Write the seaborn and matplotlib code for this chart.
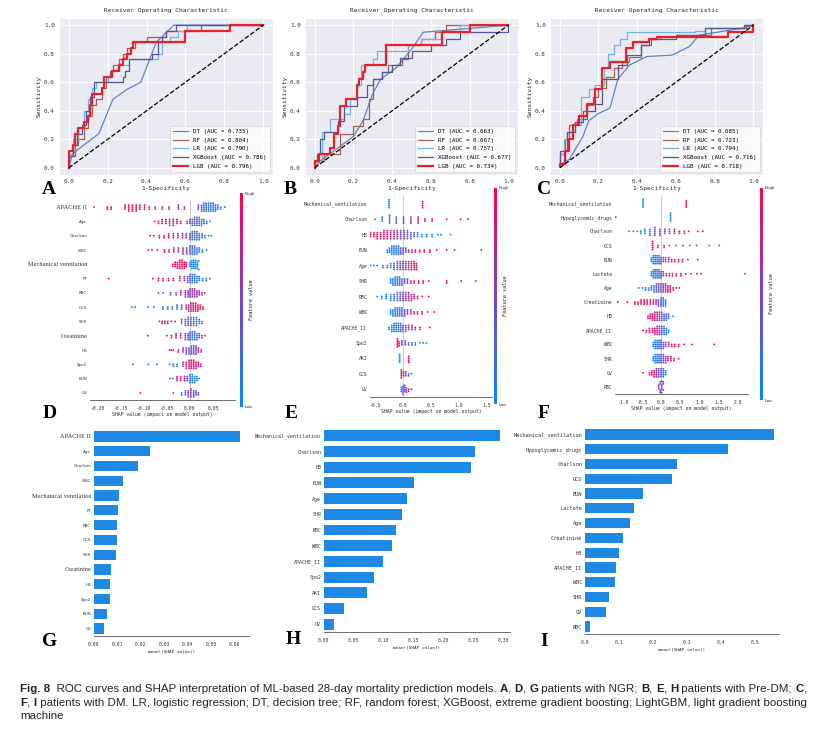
import warnings
import numpy as np
import pandas as pd
import seaborn as sns
import matplotlib.pyplot as plt
from matplotlib.colors import LinearSegmentedColormap, Normalize
from matplotlib.cm import ScalarMappable

warnings.filterwarnings("ignore")

MONO = "DejaVu Sans Mono"
SERIF = "Liberation Serif"
plt.rcParams["font.family"] = [MONO]

# ---------------- ROC data (fpr, tpr corner points) ----------------
MODELS = ["DT", "RF", "LR", "XGBoost", "LGB"]
ROC_COLORS = {"DT": "#5f83c4", "RF": "#a8604c", "LR": "#6fb3e0",
              "XGBoost": "#55559f", "LGB": "#e8202a"}

roc_A = {
    "DT": [(0, 0), (0.02, 0.1), (0.155, 0.24), (0.227, 0.48), (0.30, 0.55), (0.37, 0.60),
           (0.45, 0.88), (0.54, 1.0), (1.0, 1.0)],
    "RF": [(0, 0), (0.03, 0.08), (0.05, 0.16), (0.08, 0.20), (0.10, 0.28), (0.12, 0.36),
           (0.14, 0.44), (0.17, 0.48), (0.19, 0.56), (0.21, 0.64), (0.23, 0.68), (0.26, 0.72),
           (0.28, 0.76), (0.30, 0.80), (0.34, 0.84), (0.40, 0.88), (0.50, 0.92), (0.68, 0.96),
           (1.0, 1.0)],
    "LR": [(0, 0), (0.02, 0.10), (0.05, 0.20), (0.08, 0.28), (0.10, 0.40), (0.12, 0.48),
           (0.14, 0.56), (0.20, 0.60), (0.22, 0.64), (0.26, 0.68), (0.31, 0.72), (0.33, 0.76),
           (0.46, 0.76), (0.48, 0.80), (0.52, 0.88), (0.56, 0.92), (0.61, 0.96), (1.0, 1.0)],
    "XGBoost": [(0, 0), (0.02, 0.08), (0.04, 0.16), (0.07, 0.24), (0.09, 0.30), (0.11, 0.40),
                (0.13, 0.50), (0.28, 0.60), (0.29, 0.64), (0.31, 0.68), (0.43, 0.76),
                (0.46, 0.80), (0.48, 0.88), (0.50, 0.92), (0.55, 0.96), (1.0, 1.0)],
    "LGB": [(0, 0), (0.02, 0.12), (0.03, 0.16), (0.05, 0.24), (0.08, 0.28), (0.10, 0.32),
            (0.11, 0.36), (0.12, 0.44), (0.17, 0.52), (0.18, 0.56), (0.22, 0.64), (0.26, 0.68),
            (0.28, 0.72), (0.30, 0.76), (0.32, 0.80), (0.33, 0.84), (0.60, 0.88), (0.83, 0.96),
            (1.0, 1.0)],
}
auc_A = {"DT": 0.735, "RF": 0.804, "LR": 0.790, "XGBoost": 0.786, "LGB": 0.796}

roc_B = {
    "DT": [(0, 0), (0.03, 0.05), (0.10, 0.12), (0.20, 0.22), (0.25, 0.33), (0.30, 0.52),
           (0.34, 0.62), (0.42, 0.70), (0.50, 0.83), (0.56, 0.95), (1.0, 1.0)],
    "RF": [(0, 0), (0.05, 0.05), (0.13, 0.10), (0.20, 0.24), (0.25, 0.29), (0.28, 0.34),
           (0.30, 0.48), (0.35, 0.62), (0.38, 0.67), (0.45, 0.72), (0.48, 0.76), (0.55, 0.86),
           (0.62, 0.90), (0.68, 0.95), (1.0, 1.0)],
    "LR": [(0, 0), (0.04, 0.05), (0.08, 0.25), (0.15, 0.34), (0.18, 0.38), (0.22, 0.48),
           (0.24, 0.58), (0.30, 0.72), (0.32, 0.76), (0.48, 0.82), (0.55, 0.86), (0.65, 0.90),
           (0.75, 0.95), (1.0, 1.0)],
    "XGBoost": [(0, 0), (0.01, 0.05), (0.03, 0.10), (0.05, 0.20), (0.12, 0.25), (0.15, 0.33),
                (0.22, 0.43), (0.27, 0.50), (0.30, 0.58), (0.35, 0.62), (0.40, 0.67),
                (0.44, 0.72), (0.50, 0.77), (0.60, 0.82), (0.68, 0.86), (0.75, 0.90),
                (1.0, 0.95), (1.0, 1.0)],
    "LGB": [(0, 0), (0.02, 0.05), (0.08, 0.10), (0.10, 0.14), (0.12, 0.24), (0.13, 0.29),
            (0.16, 0.43), (0.22, 0.48), (0.23, 0.58), (0.25, 0.62), (0.26, 0.67), (0.37, 0.72),
            (0.66, 0.86), (0.80, 0.95), (1.0, 1.0)],
}
auc_B = {"DT": 0.663, "RF": 0.667, "LR": 0.757, "XGBoost": 0.677, "LGB": 0.734}

roc_C = {
    "DT": [(0, 0.02), (0.05, 0.06), (0.12, 0.22), (0.15, 0.33), (0.20, 0.38), (0.26, 0.42),
           (0.30, 0.62), (0.36, 0.72), (0.45, 0.78), (0.58, 0.79), (0.67, 0.85), (0.72, 0.93),
           (0.95, 0.98), (1.0, 1.0)],
    "RF": [(0, 0.02), (0.03, 0.10), (0.05, 0.20), (0.09, 0.30), (0.14, 0.34), (0.17, 0.44),
           (0.20, 0.50), (0.24, 0.56), (0.28, 0.64), (0.32, 0.70), (0.36, 0.74), (0.42, 0.78),
           (0.47, 0.86), (0.52, 0.90), (0.60, 0.92), (0.78, 0.93), (0.96, 0.98), (1.0, 1.0)],
    "LR": [(0, 0.02), (0.02, 0.10), (0.04, 0.20), (0.08, 0.25), (0.11, 0.30), (0.15, 0.50),
           (0.18, 0.55), (0.23, 0.58), (0.25, 0.70), (0.28, 0.80), (0.31, 0.86), (0.35, 0.90),
           (0.70, 0.95), (0.75, 0.96), (0.95, 0.98), (1.0, 1.0)],
    "XGBoost": [(0, 0.02), (0.04, 0.12), (0.08, 0.25), (0.12, 0.32), (0.18, 0.40),
                (0.22, 0.45), (0.30, 0.62), (0.35, 0.72), (0.42, 0.79), (0.46, 0.86),
                (0.60, 0.90), (0.75, 0.93), (0.95, 0.98), (1.0, 1.0)],
    "LGB": [(0, 0.01), (0.03, 0.03), (0.05, 0.12), (0.07, 0.20), (0.10, 0.30), (0.14, 0.36),
            (0.18, 0.45), (0.22, 0.55), (0.26, 0.70), (0.34, 0.74), (0.38, 0.84), (0.46, 0.88),
            (0.50, 0.90), (0.60, 0.92), (0.87, 0.92), (1.0, 0.95), (1.0, 1.0)],
}
auc_C = {"DT": 0.685, "RF": 0.723, "LR": 0.794, "XGBoost": 0.716, "LGB": 0.718}

# ---------------- SHAP beeswarm data: (shap value, count, feature value 0-1) ----------------
D_features = ["APACHE II", "Age", "Charlson", "WBC", "Mechanical ventilation", "PT", "RBC",
              "GCS", "SHR", "Creatinine", "HB", "Spo2", "BUN", "GV"]
D_swarm = {
    "APACHE II": [(-0.207, 1, 1.0), (-0.178, 2, 1.0), (-0.170, 2, 0.95), (-0.140, 3, 1.0),
                  (-0.132, 4, 1.0), (-0.124, 4, 0.95), (-0.116, 4, 0.95), (-0.108, 3, 0.9),
                  (-0.098, 3, 0.9), (-0.088, 2, 0.9), (-0.075, 2, 0.85), (-0.060, 2, 0.8),
                  (-0.045, 2, 0.75), (-0.025, 3, 0.65), (-0.012, 2, 0.6), (0.018, 3, 0.45),
                  (0.025, 4, 0.35), (0.030, 5, 0.25), (0.035, 5, 0.2), (0.040, 5, 0.1),
                  (0.045, 5, 0.15), (0.050, 5, 0.1), (0.055, 4, 0.2), (0.060, 3, 0.1),
                  (0.066, 2, 0.1), (0.075, 1, 0.05)],
    "Age": [(-0.076, 1, 1), (-0.068, 2, 1), (-0.060, 3, 0.95), (-0.052, 3, 0.95), (-0.044, 4, 0.9),
            (-0.036, 4, 0.9), (-0.028, 3, 0.85), (-0.020, 2, 0.8), (-0.006, 2, 0.5),
            (0.000, 3, 0.4), (0.005, 4, 0.35), (0.010, 5, 0.3), (0.015, 5, 0.25), (0.020, 5, 0.2),
            (0.025, 4, 0.15), (0.030, 3, 0.1), (0.036, 2, 0.1), (0.043, 1, 0.05)],
    "Charlson": [(-0.086, 1, 1), (-0.078, 1, 1), (-0.066, 2, 0.95), (-0.056, 2, 0.95),
                 (-0.046, 3, 0.9), (-0.036, 3, 0.85), (-0.026, 3, 0.8), (-0.016, 3, 0.75),
                 (-0.008, 3, 0.65), (0.000, 4, 0.45), (0.005, 5, 0.3), (0.010, 5, 0.25),
                 (0.015, 5, 0.2), (0.020, 4, 0.15), (0.026, 3, 0.1), (0.032, 2, 0.1),
                 (0.040, 1, 0.05), (0.046, 1, 0.05)],
    "WBC": [(-0.090, 1, 1), (-0.082, 1, 1), (-0.070, 1, 0.95), (-0.055, 2, 0.95), (-0.045, 2, 0.9),
            (-0.035, 3, 0.8), (-0.025, 3, 0.75), (-0.015, 4, 0.7), (-0.007, 4, 0.5),
            (0.000, 5, 0.35), (0.005, 5, 0.25), (0.010, 5, 0.2), (0.015, 4, 0.15), (0.020, 3, 0.1),
            (0.027, 2, 0.1), (0.036, 1, 0.05)],
    "Mechanical ventilation": [(-0.037, 2, 1), (-0.032, 3, 1), (-0.027, 4, 1), (-0.022, 5, 1),
                               (-0.017, 5, 1), (-0.012, 4, 1), (-0.008, 3, 1), (0.000, 3, 0.0),
                               (0.004, 5, 0.0), (0.008, 5, 0.0), (0.012, 5, 0.0), (0.016, 4, 0.0),
                               (0.019, 2, 0.0)],
    "PT": [(-0.175, 1, 1), (-0.080, 1, 1), (-0.068, 2, 0.95), (-0.058, 2, 0.95), (-0.046, 2, 0.9),
           (-0.036, 2, 0.85), (-0.022, 3, 0.7), (-0.012, 3, 0.6), (-0.005, 4, 0.5),
           (0.000, 5, 0.3), (0.005, 5, 0.2), (0.010, 5, 0.15), (0.015, 4, 0.1), (0.020, 3, 0.1),
           (0.027, 2, 0.05), (0.035, 2, 0.05), (0.043, 1, 0.05)],
    "RBC": [(-0.068, 1, 0.1), (-0.058, 1, 0.1), (-0.042, 2, 0.3), (-0.030, 2, 0.5),
            (-0.020, 3, 0.6), (-0.010, 4, 0.6), (-0.004, 4, 0.55), (0.000, 5, 0.55),
            (0.005, 5, 0.6), (0.010, 5, 0.6), (0.015, 4, 0.65), (0.020, 3, 0.7), (0.026, 2, 0.7),
            (0.032, 1, 0.6)],
    "GCS": [(-0.125, 1, 0.0), (-0.118, 1, 0.0), (-0.090, 1, 0.05), (-0.078, 1, 0.05),
            (-0.058, 2, 0.1), (-0.048, 2, 0.1), (-0.038, 2, 0.15), (-0.028, 3, 0.2),
            (-0.018, 3, 0.3), (-0.008, 3, 0.5), (-0.003, 4, 0.75), (0.002, 5, 0.85),
            (0.007, 5, 0.9), (0.012, 5, 0.95), (0.017, 4, 0.95), (0.022, 3, 1), (0.028, 2, 1)],
    "SHR": [(-0.066, 1, 1), (-0.060, 2, 1), (-0.054, 2, 1), (-0.048, 2, 1), (-0.040, 1, 1),
            (-0.032, 1, 0.95), (-0.018, 3, 0.6), (-0.010, 4, 0.5), (-0.004, 5, 0.4),
            (0.002, 5, 0.3), (0.008, 5, 0.2), (0.014, 5, 0.15), (0.020, 3, 0.1), (0.026, 2, 0.1)],
    "Creatinine": [(-0.091, 1, 1), (-0.050, 1, 0.95), (-0.040, 2, 0.9), (-0.030, 3, 0.85),
                   (-0.020, 3, 0.8), (-0.010, 4, 0.6), (-0.004, 4, 0.4), (0.000, 5, 0.2),
                   (0.005, 5, 0.15), (0.010, 5, 0.1), (0.015, 4, 0.2), (0.020, 3, 0.4),
                   (0.026, 2, 0.5), (0.032, 1, 0.5)],
    "HB": [(-0.044, 1, 1), (-0.040, 1, 1), (-0.036, 1, 0.95), (-0.025, 2, 0.8), (-0.015, 3, 0.7),
           (-0.008, 4, 0.6), (-0.002, 4, 0.4), (0.003, 5, 0.3), (0.008, 5, 0.5), (0.013, 5, 0.6),
           (0.018, 3, 0.7), (0.024, 2, 0.75)],
    "Spo2": [(-0.123, 1, 0.0), (-0.090, 1, 0.0), (-0.071, 1, 0.05), (-0.044, 1, 0.1),
             (-0.036, 2, 0.1), (-0.028, 2, 0.15), (-0.015, 3, 0.5), (-0.008, 4, 0.75),
             (-0.002, 5, 0.85), (0.003, 5, 0.9), (0.008, 5, 0.9), (0.013, 4, 0.85),
             (0.018, 3, 0.8), (0.023, 2, 0.75)],
    "BUN": [(-0.043, 1, 0.1), (-0.037, 1, 0.15), (-0.028, 3, 0.9), (-0.020, 3, 0.85),
            (-0.012, 3, 0.8), (-0.006, 3, 0.6), (0.000, 5, 0.15), (0.005, 5, 0.1),
            (0.010, 4, 0.1), (0.015, 3, 0.1), (0.020, 1, 0.1)],
    "GV": [(-0.107, 1, 1), (-0.036, 1, 1), (-0.018, 2, 0.2), (-0.010, 3, 0.3), (-0.004, 4, 0.5),
           (0.002, 5, 0.6), (0.008, 4, 0.5), (0.013, 3, 0.4), (0.018, 2, 0.3)],
}

E_features = ["Mechanical_ventilation", "Charlson", "HB", "BUN", "Age", "SHR", "RBC", "WBC",
              "APACHE_II", "Spo2", "AKI", "GCS", "GV"]
E_swarm = {
    "Mechanical_ventilation": [(-0.25, 5, 0.0), (0.35, 4, 1.0)],
    "Charlson": [(-0.50, 1, 0.0), (-0.37, 3, 0.05), (-0.24, 5, 0.1), (-0.12, 4, 0.3),
                 (0.01, 4, 0.45), (0.14, 4, 0.65), (0.27, 4, 0.85), (0.39, 2, 0.95),
                 (0.52, 2, 1.0), (0.78, 1, 1.0), (1.03, 1, 1.0), (1.16, 1, 1.0)],
    "HB": [(-0.70, 1, 1), (-0.64, 2, 1), (-0.58, 3, 1), (-0.52, 3, 1), (-0.46, 4, 0.95),
           (-0.40, 4, 0.95), (-0.34, 5, 0.9), (-0.28, 5, 0.85), (-0.22, 5, 0.8), (-0.16, 5, 0.75),
           (-0.10, 5, 0.6), (-0.04, 5, 0.5), (0.02, 5, 0.45), (0.08, 5, 0.4), (0.14, 4, 0.35),
           (0.20, 3, 0.3), (0.26, 3, 0.2), (0.34, 2, 0.1), (0.42, 2, 0.05), (0.52, 2, 0.05),
           (0.62, 1, 0.0), (0.68, 1, 0.0), (0.85, 1, 0.0)],
    "BUN": [(-0.28, 2, 0.05), (-0.24, 3, 0.05), (-0.20, 5, 0.1), (-0.16, 5, 0.1), (-0.12, 5, 0.15),
            (-0.08, 5, 0.2), (-0.04, 4, 0.3), (0.00, 4, 0.45), (0.05, 3, 0.55), (0.10, 2, 0.65),
            (0.16, 2, 0.75), (0.22, 2, 0.85), (0.30, 2, 0.9), (0.38, 2, 0.95), (0.48, 2, 1),
            (0.60, 1, 1), (0.78, 1, 1), (0.92, 1, 1), (1.40, 1, 1)],
    "Age": [(-0.58, 1, 0.0), (-0.52, 1, 0.0), (-0.46, 1, 0.0), (-0.36, 2, 0.05), (-0.28, 2, 0.1),
            (-0.22, 3, 0.15), (-0.16, 4, 0.2), (-0.10, 5, 0.3), (-0.05, 5, 0.4), (0.00, 5, 0.5),
            (0.05, 5, 0.6), (0.10, 5, 0.7), (0.15, 5, 0.8), (0.20, 5, 0.9), (0.24, 4, 0.95)],
    "SHR": [(-0.22, 3, 0.05), (-0.18, 4, 0.05), (-0.14, 5, 0.1), (-0.10, 5, 0.15), (-0.06, 5, 0.2),
            (-0.02, 4, 0.3), (0.03, 3, 0.45), (0.08, 3, 0.55), (0.14, 2, 0.7), (0.20, 2, 0.8),
            (0.28, 2, 0.9), (0.36, 2, 1), (0.46, 1, 1), (0.78, 2, 1), (1.04, 1, 1), (1.30, 1, 1)],
    "RBC": [(-0.46, 1, 0.0), (-0.38, 2, 0.0), (-0.30, 3, 0.05), (-0.22, 4, 0.1), (-0.16, 4, 0.2),
            (-0.10, 5, 0.3), (-0.05, 5, 0.4), (0.00, 5, 0.5), (0.05, 5, 0.6), (0.10, 5, 0.7),
            (0.15, 4, 0.8), (0.20, 3, 0.85), (0.26, 2, 0.9), (0.34, 1, 0.95), (0.46, 1, 1)],
    "WBC": [(-0.22, 3, 0.05), (-0.18, 4, 0.05), (-0.14, 5, 0.1), (-0.10, 5, 0.15), (-0.06, 5, 0.2),
            (-0.02, 5, 0.3), (0.03, 4, 0.45), (0.08, 3, 0.6), (0.14, 3, 0.7), (0.20, 2, 0.8),
            (0.26, 2, 0.9), (0.34, 2, 0.95), (0.44, 1, 1), (0.56, 1, 1)],
    "APACHE_II": [(-0.25, 2, 0.05), (-0.20, 4, 0.05), (-0.16, 5, 0.1), (-0.12, 5, 0.1),
                  (-0.08, 5, 0.15), (-0.04, 5, 0.25), (0.00, 4, 0.4), (0.05, 4, 0.55),
                  (0.10, 3, 0.65), (0.16, 3, 0.8), (0.22, 2, 0.9), (0.30, 2, 1), (0.48, 1, 1)],
    "Spo2": [(-0.10, 5, 1.0), (-0.07, 3, 0.9), (-0.02, 3, 0.6), (0.04, 3, 0.5), (0.10, 2, 0.4),
             (0.16, 2, 0.3), (0.22, 2, 0.2), (0.30, 1, 0.1), (0.36, 1, 0.05), (0.42, 1, 0.0)],
    "AKI": [(-0.06, 5, 0.0), (0.10, 4, 1.0)],
    "GCS": [(-0.03, 5, 1.0), (0.01, 3, 0.7), (0.05, 3, 0.4), (0.10, 2, 0.2), (0.15, 1, 0.1)],
    "GV": [(-0.03, 3, 0.2), (0.00, 5, 0.3), (0.03, 4, 0.4), (0.06, 3, 0.6), (0.10, 2, 0.9),
           (0.15, 1, 1)],
}

F_features = ["Mechanical_ventilation", "Hypoglycemic_drugs", "Charlson", "GCS", "BUN", "Lactate",
              "Age", "Creatinine", "HB", "APACHE_II", "WBC", "SHR", "GV", "RBC"]
F_swarm = {
    "Mechanical_ventilation": [(-0.47, 5, 0.0), (0.66, 4, 1.0)],
    "Hypoglycemic_drugs": [(-1.18, 1, 1.0), (0.25, 5, 0.0)],
    "Charlson": [(-0.83, 1, 0), (-0.72, 1, 0), (-0.62, 1, 0), (-0.53, 2, 0), (-0.42, 3, 0.05),
                 (-0.29, 4, 0.1), (-0.16, 5, 0.3), (-0.03, 4, 0.45), (0.10, 3, 0.55),
                 (0.22, 3, 0.65), (0.35, 3, 0.75), (0.48, 2, 0.85), (0.61, 2, 0.9), (0.72, 1, 1),
                 (0.96, 1, 1), (1.09, 1, 1)],
    "GCS": [(-0.22, 5, 1.0), (-0.08, 2, 0.8), (0.08, 2, 0.6), (0.22, 1, 0.4), (0.39, 1, 0.3),
            (0.57, 1, 0.2), (0.75, 1, 0.1), (0.93, 1, 0.05), (1.26, 1, 0.0), (1.52, 1, 0.0)],
    "BUN": [(-0.25, 3, 0.05), (-0.20, 5, 0.05), (-0.15, 5, 0.1), (-0.10, 5, 0.1), (-0.05, 5, 0.2),
            (0.00, 4, 0.35), (0.06, 3, 0.5), (0.12, 3, 0.6), (0.20, 3, 0.7), (0.28, 2, 0.8),
            (0.36, 2, 0.85), (0.46, 2, 0.9), (0.56, 2, 0.95), (0.70, 1, 1), (0.96, 1, 1)],
    "Lactate": [(-0.25, 3, 0.05), (-0.20, 5, 0.05), (-0.15, 5, 0.1), (-0.10, 5, 0.1),
                (-0.05, 5, 0.2), (0.00, 4, 0.35), (0.06, 3, 0.5), (0.14, 2, 0.6), (0.22, 2, 0.7),
                (0.30, 2, 0.8), (0.40, 2, 0.9), (0.52, 2, 0.95), (0.65, 1, 1), (0.78, 1, 1),
                (0.94, 1, 1), (1.05, 1, 1), (2.19, 1, 1)],
    "Age": [(-0.58, 1, 0), (-0.48, 1, 0), (-0.40, 2, 0), (-0.32, 2, 0.05), (-0.25, 3, 0.1),
            (-0.18, 4, 0.2), (-0.12, 5, 0.3), (-0.06, 5, 0.4), (0.00, 5, 0.5), (0.06, 5, 0.6),
            (0.12, 5, 0.7), (0.18, 4, 0.8), (0.24, 4, 0.9), (0.32, 2, 0.95), (0.40, 1, 1),
            (0.48, 1, 1)],
    "Creatinine": [(-1.13, 1, 1), (-0.88, 1, 1), (-0.68, 2, 1), (-0.60, 2, 1), (-0.52, 3, 1),
                   (-0.44, 3, 0.95), (-0.36, 3, 0.95), (-0.28, 3, 0.9), (-0.20, 3, 0.8),
                   (-0.13, 3, 0.7), (-0.07, 4, 0.5), (0.00, 5, 0.3), (0.06, 5, 0.15),
                   (0.12, 4, 0.05)],
    "HB": [(-0.34, 2, 1), (-0.28, 3, 0.95), (-0.22, 4, 0.9), (-0.16, 5, 0.85), (-0.10, 5, 0.75),
           (-0.04, 5, 0.6), (0.02, 5, 0.4), (0.08, 4, 0.3), (0.14, 4, 0.2), (0.20, 3, 0.15),
           (0.31, 1, 0.0)],
    "APACHE_II": [(-0.47, 1, 1), (-0.38, 2, 1), (-0.30, 3, 0.95), (-0.22, 3, 0.9), (-0.16, 4, 0.85),
                  (-0.10, 5, 0.75), (-0.04, 5, 0.6), (0.02, 5, 0.35), (0.08, 5, 0.2),
                  (0.14, 4, 0.1), (0.20, 2, 0.05)],
    "WBC": [(-0.20, 3, 0.05), (-0.15, 5, 0.05), (-0.10, 5, 0.1), (-0.05, 5, 0.15), (0.00, 5, 0.25),
            (0.06, 4, 0.4), (0.12, 3, 0.55), (0.20, 3, 0.7), (0.28, 2, 0.8), (0.36, 2, 0.9),
            (0.46, 2, 1), (0.60, 1, 1), (0.81, 1, 1), (1.39, 1, 1)],
    "SHR": [(-0.20, 3, 0.05), (-0.15, 5, 0.05), (-0.10, 5, 0.1), (-0.05, 5, 0.2), (0.00, 5, 0.3),
            (0.06, 5, 0.45), (0.12, 4, 0.6), (0.18, 3, 0.75), (0.26, 3, 0.85), (0.34, 2, 0.95),
            (0.46, 1, 1)],
    "GV": [(-0.47, 1, 1), (-0.30, 2, 0.95), (-0.24, 3, 0.9), (-0.18, 4, 0.8), (-0.12, 5, 0.7),
           (-0.06, 5, 0.5), (0.00, 5, 0.3), (0.06, 5, 0.15), (0.12, 3, 0.05)],
    "RBC": [(-0.06, 3, 0.6), (-0.02, 5, 0.4), (0.02, 5, 0.5), (0.06, 3, 0.7)],
}

# ---------------- SHAP mean |value| bars ----------------
G_values = [0.0622, 0.0238, 0.0187, 0.0124, 0.0106, 0.0103, 0.0099, 0.0098, 0.0093,
            0.0071, 0.0069, 0.0066, 0.0055, 0.0044]
H_values = [0.293, 0.251, 0.245, 0.150, 0.139, 0.130, 0.120, 0.114, 0.099, 0.084,
            0.071, 0.033, 0.016]
I_values = [0.556, 0.420, 0.270, 0.257, 0.171, 0.143, 0.133, 0.111, 0.099, 0.091,
            0.089, 0.070, 0.062, 0.015]

SERIF_LABELS = {"APACHE II", "Mechanical ventilation", "Creatinine"}
SHAP_CMAP = LinearSegmentedColormap.from_list("shap", ["#008bfb", "#8040c8", "#ff0052"])
BAR_BLUE = "#1E88E5"

W, H = 818, 734
fig = plt.figure(figsize=(W / 100, H / 100), dpi=100)


def px_axes(left, top, right, bottom, style="white"):
    with sns.axes_style(style):
        return fig.add_axes([left / W, 1 - bottom / H, (right - left) / W, (bottom - top) / H])


def draw_roc(box, curves, aucs):
    ax = px_axes(*box, style="darkgrid")
    for name in MODELS:
        pts = np.array(curves[name])
        sns.lineplot(x=pts[:, 0], y=pts[:, 1], ax=ax, sort=False, estimator=None,
                     color=ROC_COLORS[name], linewidth=1.6 if name == "LGB" else 0.9,
                     drawstyle="default" if name == "DT" else "steps-pre",
                     label=f"{name} (AUC = {aucs[name]:.3f})")
    ax.plot([0, 1], [0, 1], color="black", linestyle="--", linewidth=0.9)
    ax.set_xlim(-0.05, 1.05)
    ax.set_ylim(-0.05, 1.05)
    ticks = np.arange(0, 1.01, 0.2)
    ax.set_xticks(ticks)
    ax.set_yticks(ticks)
    ax.set_xticklabels([f"{t:.1f}" for t in ticks])
    ax.set_yticklabels([f"{t:.1f}" for t in ticks])
    ax.tick_params(labelsize=4.3, pad=3, length=0, labelfontfamily=MONO, colors="#333333")
    ax.set_title("Receiver Operating Characteristic", fontsize=4.5, family=MONO, pad=4)
    ax.set_xlabel("1-Specificity", fontsize=4.5, family=MONO, labelpad=1)
    ax.set_ylabel("Sensitivity", fontsize=4.5, family=MONO, labelpad=2)
    ax.grid(color="white", linewidth=0.8)
    leg = ax.legend(loc="lower right", prop={"family": MONO, "size": 4.2}, handlelength=2.6,
                    labelspacing=0.6, borderpad=0.6, handletextpad=0.8, framealpha=0.8)
    leg.get_frame().set_linewidth(0.5)
    return ax


def style_shap_axis(ax, small_size, small_family):
    for side in ["left", "top", "right"]:
        ax.spines[side].set_visible(False)
    ax.spines["bottom"].set_linewidth(0.5)
    ax.spines["bottom"].set_color("#333333")
    ax.tick_params(axis="y", length=0, pad=2)
    ax.tick_params(axis="x", length=2, width=0.4, pad=2, labelsize=3.4,
                   labelfontfamily=MONO, colors="#333333")
    for lbl in ax.get_yticklabels():
        if lbl.get_text() in SERIF_LABELS and small_family != MONO:
            lbl.set_fontfamily(SERIF)
            lbl.set_fontsize(4.6)
        else:
            lbl.set_fontfamily(small_family)
            lbl.set_fontsize(small_size)
        lbl.set_color("#333333")


def draw_swarm(box, features, swarm, xlim, ticks, fmt, cbar_box, ylabel_size, ylabel_family):
    ax = px_axes(*box)
    rows = []
    for feat in features:
        for shap_v, n, fv in swarm[feat]:
            rows += [(feat, shap_v, fv)] * n
    df = pd.DataFrame(rows, columns=["feature", "shap", "fv"])
    ax.axvline(0, color="#bbbbbb", linewidth=0.5, zorder=0)
    sns.swarmplot(data=df, x="shap", y="feature", hue="fv", order=features, orient="h",
                  palette=SHAP_CMAP, hue_norm=(0, 1), size=1.35, linewidth=0,
                  legend=False, ax=ax)
    ax.set_xlim(*xlim)
    ax.set_ylim(len(features) - 0.5, -0.5)
    ax.set_yticks(range(len(features)))
    ax.set_yticklabels(features)
    ax.set_xticks(ticks)
    ax.set_xticklabels([fmt.format(t) for t in ticks])
    ax.set_ylabel("")
    ax.set_xlabel("SHAP value (impact on model output)", fontsize=3.4, family=MONO, labelpad=1)
    style_shap_axis(ax, ylabel_size, ylabel_family)

    cax = px_axes(*cbar_box)
    cb = fig.colorbar(ScalarMappable(norm=Normalize(0, 1), cmap=SHAP_CMAP), cax=cax, ticks=[0, 1])
    cb.set_ticklabels(["Low", "High"])
    cb.outline.set_visible(False)
    cb.ax.tick_params(labelsize=3.2, length=0, pad=1, labelfontfamily=MONO)
    cb.set_label("Feature value", size=3.8, family=MONO, labelpad=-4)
    return ax


def draw_bars(box, features, values, xmax, ticks, fmt, ylabel_size, ylabel_family):
    ax = px_axes(*box)
    sns.barplot(x=values, y=features, orient="h", color=BAR_BLUE, saturation=1,
                width=0.7, ax=ax)
    ax.set_xlim(0, xmax)
    ax.set_ylim(len(features) - 0.5, -0.5)
    ax.set_yticks(range(len(features)))
    ax.set_yticklabels(features)
    ax.set_xticks(ticks)
    ax.set_xticklabels([fmt.format(t) for t in ticks])
    ax.set_ylabel("")
    ax.set_xlabel("mean(|SHAP value|)", fontsize=3.2, family=MONO, labelpad=2)
    style_shap_axis(ax, ylabel_size, ylabel_family)
    return ax


# ROC row
draw_roc((59, 18, 273, 175), roc_A, auc_A)
draw_roc((305, 18, 518, 175), roc_B, auc_B)
draw_roc((550, 18, 763, 175), roc_C, auc_C)

# beeswarm row
draw_swarm((90, 200, 235, 400), D_features, D_swarm, (-0.2155, 0.097),
           [-0.20, -0.15, -0.10, -0.05, 0.0, 0.05], "{:.2f}", (240, 193, 243, 407), 2.9, "DejaVu Sans")
draw_swarm((370, 196, 492, 397), E_features, E_swarm, (-0.589, 1.589),
           [-0.5, 0.0, 0.5, 1.0, 1.5], "{:.1f}", (494, 188, 497, 404), 3.5, MONO)
draw_swarm((615, 196, 748, 394), F_features, F_swarm, (-1.20, 2.27),
           [-1.0, -0.5, 0.0, 0.5, 1.0, 1.5, 2.0], "{:.1f}", (760, 188, 763, 400), 3.5, MONO)

# bar row
draw_bars((94, 429, 249, 636), D_features, G_values, 0.066,
          [0.00, 0.01, 0.02, 0.03, 0.04, 0.05, 0.06], "{:.2f}", 2.9, "DejaVu Sans")
draw_bars((324, 428, 510, 632), E_features, H_values, 0.31,
          [0.00, 0.05, 0.10, 0.15, 0.20, 0.25, 0.30], "{:.2f}", 3.6, MONO)
draw_bars((585, 427, 779, 634), F_features, I_values, 0.57,
          [0.0, 0.1, 0.2, 0.3, 0.4, 0.5], "{:.1f}", 3.8, MONO)

# panel letters
letters = [("A", 42, 190), ("B", 284, 190), ("C", 537, 190),
           ("D", 43, 414), ("E", 285, 414), ("F", 538, 414),
           ("G", 42, 642), ("H", 286, 640), ("I", 540, 641)]
for letter, lx, ly in letters:
    fig.text(lx / W, 1 - ly / H, letter, fontsize=14, fontweight="bold", family=SERIF,
             ha="left", va="center")

# caption with bold runs
caption_lines = [
    [("Fig. 8", True), ("  ROC curves and SHAP interpretation of ML-based 28-day mortality prediction models. ", False),
     ("A", True), (", ", False), ("D", True), (", ", False), ("G", True),
     (" patients with NGR; ", False), ("B", True), (", ", False), ("E", True), (", ", False),
     ("H", True), (" patients with Pre-DM; ", False), ("C", True), (",", False)],
    [("F", True), (", ", False), ("I", True),
     (" patients with DM. LR, logistic regression; DT, decision tree; RF, random forest; XGBoost, "
      "extreme gradient boosting; LightGBM, light gradient boosting", False)],
    [("machine", False)],
]
caption_y = [689, 703, 716]
CAP_FONT = "Liberation Sans"
renderer = fig.canvas.get_renderer()


def place_line(runs, cy, size, draw=True):
    x = 20 / W
    placed = []
    for txt, bold in runs:
        t = fig.text(x, 1 - cy / H, txt, fontsize=size, family=CAP_FONT,
                     fontweight="bold" if bold else "normal", ha="left", va="center",
                     color="#222222")
        x += t.get_window_extent(renderer).width / fig.bbox.width
        placed.append(t)
    if not draw:
        for t in placed:
            t.remove()
    return x * W - 20


# fit the caption so that the second line runs to the right margin
trial = place_line(caption_lines[1], caption_y[1], 7.0, draw=False)
cap_size = 7.0 * 780 / trial
for runs, cy in zip(caption_lines, caption_y):
    place_line(runs, cy, cap_size)

fig.savefig("out.png", dpi=100, facecolor="white")
